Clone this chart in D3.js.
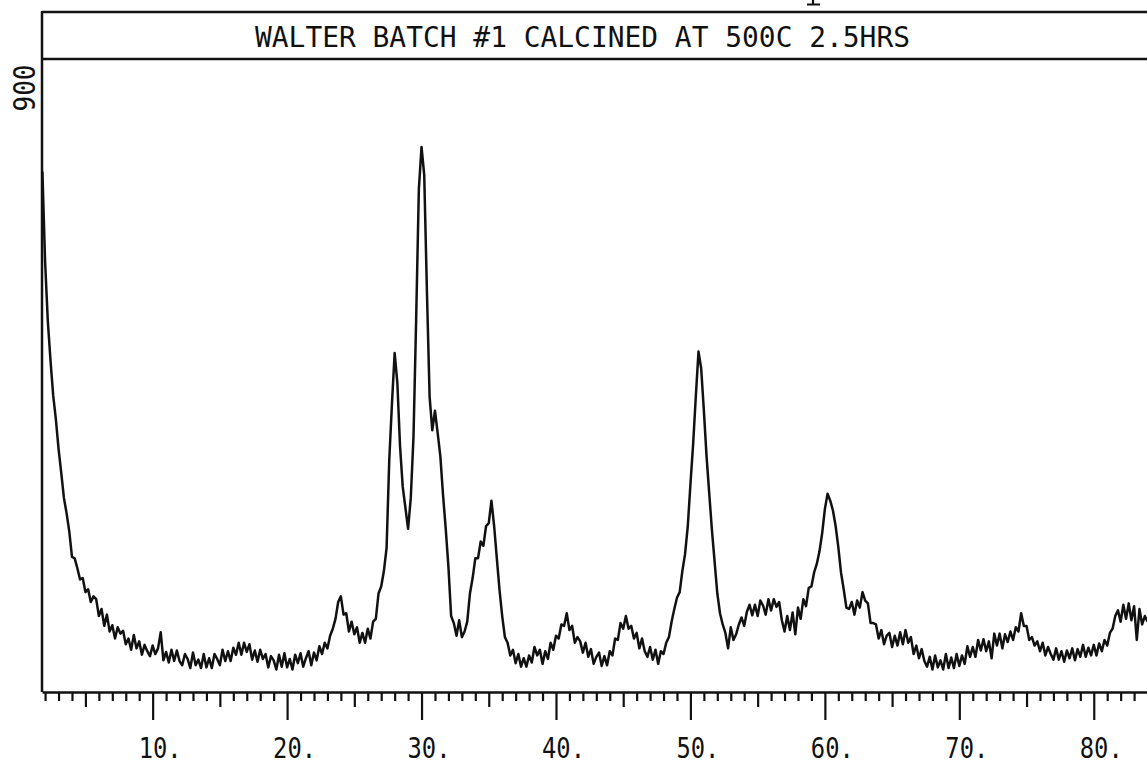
<!DOCTYPE html>
<html>
<head>
<script src="https://d3js.org/d3.v7.min.js"></script>
<style>
    body {
        margin: 0;
        background: #fff;
    }

    svg {
        display: block;
    }

    .plotter {
        font-family: "DejaVu Sans Mono", monospace;
        fill: #111;
    }
</style>
</head>
<body>
<div id="chart"></div>
<script>
    // scan: 2-theta from scanStart in steps of scanStep, intensity in counts
    var title = "WALTER BATCH #1 CALCINED AT 500C 2.5HRS";
    var yLabel = 900;
    var scanStart = 1.8,
        scanStep = 0.2;
    var counts = [
        740, 612, 528, 472, 422, 388, 346, 312, 276, 254,
        228, 192, 190, 176, 160, 162, 142, 146, 128, 136,
        132, 108, 118, 94, 110, 86, 95, 76, 92, 83,
        87, 68, 76, 60, 81, 62, 72, 53, 67, 58,
        51, 66, 54, 62, 85, 45, 57, 42, 60, 44,
        59, 44, 38, 54, 47, 34, 56, 38, 46, 34,
        54, 35, 48, 34, 54, 47, 38, 60, 44, 58,
        44, 63, 53, 70, 53, 70, 57, 68, 46, 59,
        43, 60, 47, 54, 35, 51, 45, 32, 53, 36,
        55, 35, 47, 32, 53, 41, 55, 36, 48, 58,
        38, 56, 45, 65, 54, 70, 62, 80, 90, 104,
        128, 136, 110, 112, 86, 100, 82, 92, 70, 84,
        70, 90, 76, 100, 104, 140, 150, 172, 205, 330,
        410, 482, 440, 350, 292, 262, 232, 276, 362, 530,
        715, 775, 735, 570, 420, 372, 400, 368, 335, 280,
        232, 178, 108, 98, 80, 102, 78, 86, 100, 140,
        162, 190, 190, 214, 208, 236, 240, 272, 236, 190,
        145, 108, 78, 70, 52, 60, 41, 54, 36, 48,
        36, 52, 42, 64, 52, 60, 40, 58, 47, 70,
        60, 80, 76, 96, 94, 112, 88, 94, 70, 78,
        72, 56, 70, 50, 61, 40, 50, 56, 37, 51,
        38, 58, 52, 76, 74, 98, 90, 108, 90, 94,
        76, 84, 62, 76, 58, 50, 64, 46, 60, 40,
        58, 54, 70, 78, 100, 118, 134, 142, 172, 196,
        235, 295, 352, 420, 484, 460, 400, 335, 282, 230,
        185, 140, 112, 96, 84, 62, 92, 74, 82, 96,
        106, 94, 114, 124, 109, 124, 108, 130, 123, 110,
        132, 116, 132, 121, 128, 102, 86, 108, 88, 113,
        82, 120, 104, 132, 122, 148, 150, 170, 182, 200,
        226, 260, 282, 272, 258, 236, 206, 170, 146, 120,
        118, 128, 110, 130, 120, 142, 130, 126, 98, 98,
        96, 76, 88, 68, 80, 84, 64, 80, 66, 85,
        68, 88, 70, 78, 54, 66, 48, 61, 44, 36,
        50, 32, 52, 35, 45, 32, 54, 34, 49, 34,
        54, 37, 52, 40, 65, 50, 64, 50, 74, 59,
        75, 58, 72, 48, 83, 66, 83, 62, 82, 71,
        86, 74, 92, 86, 112, 94, 94, 74, 78, 66,
        72, 58, 70, 52, 64, 54, 46, 62, 46, 58,
        43, 59, 48, 62, 45, 61, 50, 67, 50, 63,
        52, 67, 52, 69, 58, 74, 66, 84, 90, 108,
        116, 100, 124, 104, 126, 102, 122, 74, 118, 96,
        108, 100
    ];
    var majorTicks = [10, 20, 30, 40, 50, 60, 70, 80];
    var midTicks = [5, 15, 25, 35, 45, 55, 65, 75];
    var minorTicks = d3.range(2, 84).filter(function(d) {
        return d % 5 != 0;
    });

    var width = 1147,
        height = 765;
    var left = 42,
        right = 1147,
        frameTop = 12,
        plotTop = 59,
        bottom = 692;

    var data = counts.map(function(c, i) {
        return { angle: scanStart + i * scanStep, value: c };
    });

    var x = d3.scaleLinear().domain([1.77, 83.96]).range([left, right]);
    var y = d3.scaleLinear().domain([0, 900]).range([bottom, plotTop]);

    var svg = d3.select("#chart")
        .append("svg")
        .attr("width", width)
        .attr("height", height);

    // descender of a letter from the page above, cut by the crop
    svg.append("path")
        .attr("d", "M813,0 L813,4.5 M807,4.5 L820,4.5")
        .attr("stroke", "#111")
        .attr("stroke-width", 2.2)
        .attr("fill", "none");

    // frame + title box
    svg.append("line")
        .attr("x1", left).attr("x2", right)
        .attr("y1", frameTop).attr("y2", frameTop)
        .attr("stroke", "#111").attr("stroke-width", 2.5);
    svg.append("line")
        .attr("x1", left).attr("x2", right)
        .attr("y1", plotTop).attr("y2", plotTop)
        .attr("stroke", "#111").attr("stroke-width", 2.5);
    svg.append("line")
        .attr("x1", left).attr("x2", left)
        .attr("y1", frameTop - 1).attr("y2", bottom)
        .attr("stroke", "#111").attr("stroke-width", 2.5);

    svg.append("text")
        .attr("class", "plotter")
        .attr("x", 255)
        .attr("y", 47)
        .attr("textLength", 655)
        .attr("lengthAdjust", "spacingAndGlyphs")
        .style("font-size", "27.5px")
        .text(title);

    svg.append("text")
        .attr("class", "plotter")
        .attr("transform", "translate(35," + (y(yLabel) + 29) + ") rotate(-90)")
        .attr("text-anchor", "middle")
        .attr("textLength", 47)
        .attr("lengthAdjust", "spacingAndGlyphs")
        .style("font-size", "30px")
        .text(yLabel);

    // x axis: minor, 5s, 10s
    function tickAxis(values, size) {
        return d3.axisBottom(x)
            .tickValues(values)
            .tickSize(size)
            .tickSizeOuter(0)
            .tickFormat("");
    }

    var gMinor = svg.append("g").attr("transform", "translate(0," + bottom + ")")
        .call(tickAxis(minorTicks, 9));
    var gMid = svg.append("g").attr("transform", "translate(0," + bottom + ")")
        .call(tickAxis(midTicks, 15));
    var gMajor = svg.append("g").attr("transform", "translate(0," + bottom + ")")
        .call(tickAxis(majorTicks, 28).tickFormat(function(d) { return d + "."; }));

    [gMinor, gMid].forEach(function(g) {
        g.select(".domain").remove();
    });
    svg.selectAll(".tick line").attr("stroke", "#111").attr("stroke-width", 2.2);
    gMajor.select(".domain").attr("stroke", "#111").attr("stroke-width", 2.5);

    gMajor.selectAll(".tick text")
        .attr("class", "plotter")
        .attr("text-anchor", "start")
        .attr("x", -14.5)
        .attr("y", 66)
        .attr("dy", 0)
        .attr("textLength", 43)
        .attr("lengthAdjust", "spacingAndGlyphs")
        .style("font-size", "29px")
        .style("font-family", "'DejaVu Sans Mono', monospace")
        .style("fill", "#111");

    // diffraction trace
    var line = d3.line()
        .x(function(d) { return x(d.angle); })
        .y(function(d) { return y(d.value); });

    svg.append("path")
        .datum(data)
        .attr("fill", "none")
        .attr("stroke", "#111")
        .attr("stroke-width", 2.5)
        .attr("stroke-linejoin", "round")
        .attr("d", line);
</script>
</body>
</html>
